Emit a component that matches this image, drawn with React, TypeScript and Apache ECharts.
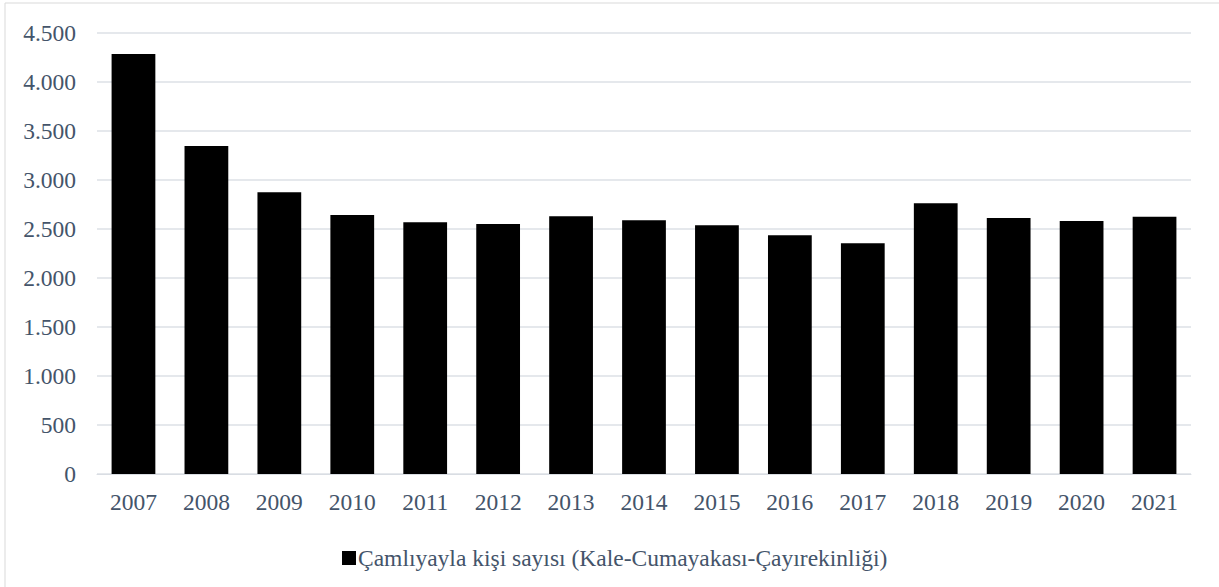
import React, { useEffect, useRef } from "react";
import * as echarts from "echarts";

const years = ["2007","2008","2009","2010","2011","2012","2013","2014","2015","2016","2017","2018","2019","2020","2021"];
const values = [4285, 3347, 2874, 2643, 2568, 2551, 2630, 2589, 2537, 2436, 2354, 2762, 2612, 2582, 2626];
const seriesName = "Çamlıyayla kişi sayısı (Kale-Cumayakası-Çayırekinliği)";
const yMin = 0;
const yMax = 4500;
const yInterval = 500;

const textColor = "#44546A";
const font = "Liberation Serif";
const fs = 23.5;

export default function App() {
  const ref = useRef<HTMLDivElement>(null);
  useEffect(() => {
    document.body.style.margin = "0";
    const chart = echarts.init(ref.current!, null, { renderer: "svg" });
    chart.setOption({
      animation: false,
      backgroundColor: "#ffffff",
      textStyle: { fontFamily: font },
      graphic: [
        {
          type: "rect",
          shape: { x: 5, y: 3, width: 1230, height: 600 },
          style: { fill: "none", stroke: "#D9D9D9", lineWidth: 1 },
          silent: true,
        },
      ],
      grid: { left: 97, right: 28, top: 33, bottom: 113 },
      xAxis: {
        type: "category",
        data: years,
        axisLine: { lineStyle: { color: "#D9DDE3", width: 1 } },
        axisTick: { show: false },
        axisLabel: { color: textColor, fontSize: fs, fontFamily: font, margin: 16 },
      },
      yAxis: {
        type: "value",
        min: yMin,
        max: yMax,
        interval: yInterval,
        axisLine: { show: false },
        axisTick: { show: false },
        splitLine: { lineStyle: { color: "#DCE0E6", width: 1.5 } },
        axisLabel: {
          color: textColor,
          fontSize: fs,
          fontFamily: font,
          margin: 21,
          formatter: (v: number) => v.toLocaleString("de-DE"),
        },
      },
      legend: {
        data: [seriesName],
        left: 337,
        top: 541,
        icon: "rect",
        itemWidth: 14,
        itemHeight: 14,
        textStyle: { color: textColor, fontSize: fs, fontFamily: font, padding: [0, 0, 0, -3] },
      },
      series: [
        {
          name: seriesName,
          type: "bar",
          data: values,
          barCategoryGap: "40%",
          itemStyle: { color: "#000000" },
        },
      ],
    });
    return () => chart.dispose();
  }, []);
  return <div ref={ref} style={{ width: 1219, height: 587 }} />;
}
